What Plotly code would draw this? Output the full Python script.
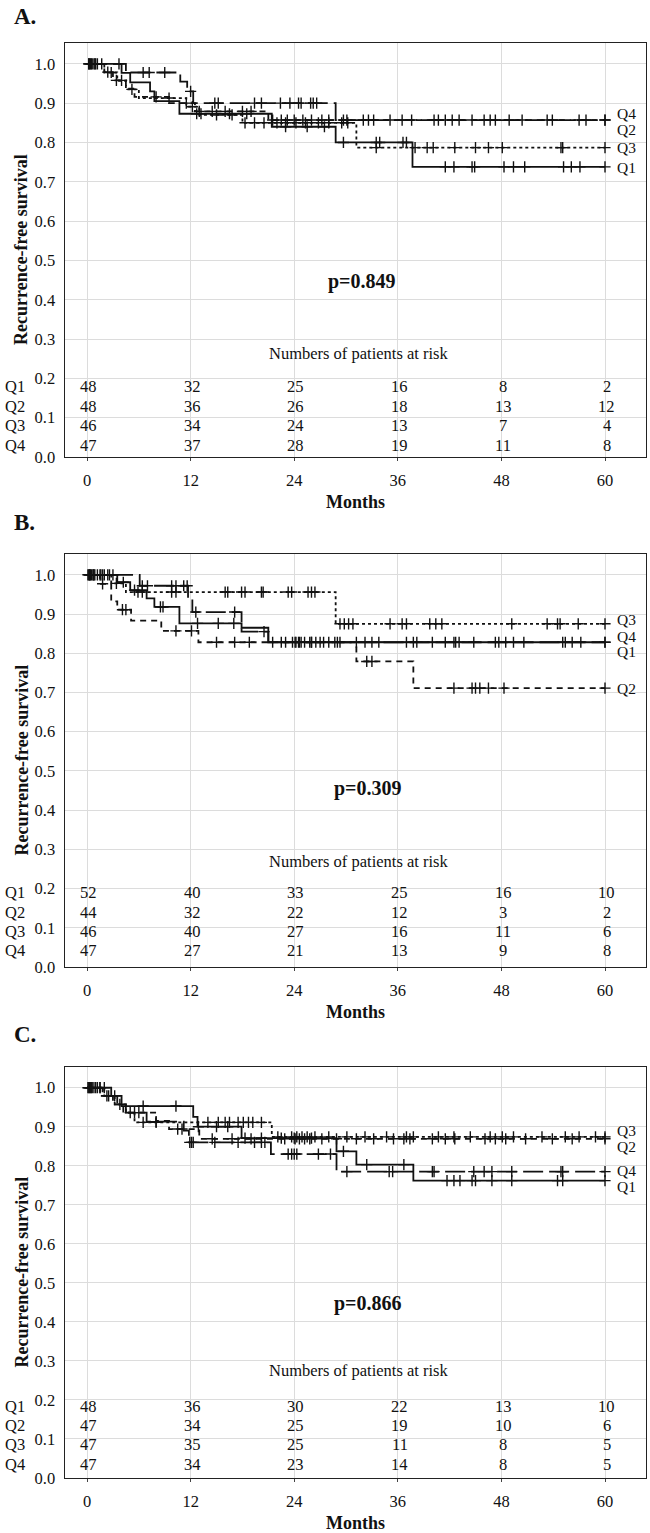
import plotly.graph_objects as go

# ---------------- data ----------------
months_ticks = [0, 12, 24, 36, 48, 60]
groups = ["Q1", "Q2", "Q3", "Q4"]
END = 60

# Panel A: step times, survival values, censor times
A_Q1_t = [0, 4.0, 5.0, 7.3, 7.8, 10.7, 21.4, 28.8, 37.7]
A_Q1_s = [1.0, 0.977, 0.953, 0.930, 0.905, 0.873, 0.840, 0.800, 0.738]
A_Q1_c = [0.3, 0.6, 1.0, 3.7, 12.7, 13.2, 16.5, 18.5, 23.0, 25.5, 27.5, 29.7, 33.5, 33.9,
          36.6, 37.0, 41.5, 42.5, 44.6, 44.9, 48.3, 49.4, 50.7, 55.2, 56.1, 57.1, 60.0]
A_Q2_t = [0, 2.0, 3.0, 4.5, 5.5, 9.5, 12.5, 21.0]
A_Q2_s = [1.0, 0.979, 0.958, 0.937, 0.916, 0.900, 0.879, 0.857]
A_Q2_c = [0.4, 0.9, 2.4, 3.4, 4.0, 8.0, 11.5, 13.0, 14.5, 16.0, 18.0, 19.0, 21.5, 22.5, 23.2,
          24.0, 25.0, 26.0, 27.2, 28.0, 32.0, 33.2, 36.5, 40.2, 41.5, 43.1, 46.0, 47.3, 50.4,
          53.9, 57.8, 60.0]
A_Q3_t = [0, 2.0, 3.5, 4.5, 6.0, 11.5, 13.0, 18.0, 31.2]
A_Q3_s = [1.0, 0.978, 0.957, 0.935, 0.913, 0.891, 0.870, 0.850, 0.787]
A_Q3_c = [0.2, 1.2, 2.8, 5.2, 9.5, 12.2, 15.0, 16.8, 18.3, 19.4, 20.5, 22.0, 23.0, 24.2, 25.3,
          26.8, 28.0, 29.5, 30.2, 33.5, 38.0, 39.4, 40.1, 42.6, 45.0, 46.5, 48.1, 54.9, 55.1, 60.0]
A_Q4_t = [0, 4.5, 10.8, 11.6, 12.3, 28.8]
A_Q4_s = [1.0, 0.978, 0.955, 0.930, 0.900, 0.857]
A_Q4_c = [0.2, 0.5, 0.8, 1.7, 6.5, 7.2, 9.0, 12.0, 14.8, 15.2, 19.4, 20.2, 22.4, 23.5, 24.5,
          24.8, 25.9, 26.2, 26.6, 29.7, 30.1, 32.6, 35.1, 37.6, 40.7, 42.3, 44.6, 46.7, 48.9,
          53.3, 57.0, 60.0]

# Panel B
B_Q1_t = [0, 3.5, 5.0, 6.9, 7.8, 10.7, 17.9, 21.0]
B_Q1_s = [1.0, 0.981, 0.961, 0.940, 0.918, 0.876, 0.865, 0.828]
B_Q1_c = [0.2, 0.5, 0.8, 1.5, 2.0, 2.6, 4.2, 5.5, 8.5, 8.8, 12.8, 15.2, 17.0, 22.5, 24.2, 24.5,
          24.8, 25.8, 26.5, 27.4, 28.7, 31.2, 33.0, 37.0, 38.2, 41.5, 42.7, 44.8, 47.7, 49.4,
          55.1, 56.2, 60.0]
B_Q2_t = [0, 1.5, 2.8, 3.5, 5.1, 8.6, 12.9, 31.2, 37.8]
B_Q2_s = [1.0, 0.977, 0.932, 0.911, 0.883, 0.857, 0.828, 0.779, 0.711]
B_Q2_c = [0.3, 0.7, 1.8, 4.1, 4.5, 10.3, 12.1, 15.0, 17.1, 18.8, 21.5, 23.0, 26.0, 29.0, 32.4,
          33.0, 42.5, 44.6, 45.0, 45.5, 46.5, 48.3, 60.0]
B_Q3_t = [0, 2.8, 4.5, 28.8]
B_Q3_s = [1.0, 0.978, 0.956, 0.875]
B_Q3_c = [0.3, 0.9, 1.6, 3.4, 5.9, 6.4, 9.8, 10.3, 16.0, 16.3, 17.9, 18.3, 20.2, 20.4, 23.3,
          23.7, 25.6, 26.0, 26.4, 29.3, 29.8, 30.3, 30.8, 35.1, 36.5, 37.0, 39.7, 40.4, 41.1,
          49.2, 53.3, 54.5, 54.8, 56.9, 60.0]
B_Q4_t = [0, 6.1, 11.7, 12.2, 17.9, 21.0]
B_Q4_s = [1.0, 0.972, 0.940, 0.905, 0.855, 0.828]
B_Q4_c = [0.1, 0.4, 0.7, 1.2, 1.8, 2.4, 3.0, 6.4, 7.0, 9.8, 10.3, 11.2, 11.6, 12.6, 17.1, 20.5,
          23.8, 24.1, 24.6, 25.2, 26.0, 27.0, 28.0, 29.3, 32.2, 33.8, 37.8, 40.0, 42.5, 43.1,
          47.3, 48.5, 50.6, 55.4, 57.2, 60.0]

# Panel C
C_Q1_t = [0, 2.8, 4.0, 12.3, 12.8, 17.9, 28.9, 31.2, 37.8]
C_Q1_s = [1.0, 0.979, 0.953, 0.925, 0.900, 0.871, 0.837, 0.803, 0.762]
C_Q1_c = [0.2, 0.5, 1.5, 2.0, 3.2, 6.5, 10.3, 12.9, 15.0, 16.3, 18.3, 20.2, 22.5, 24.0, 26.0,
          29.7, 32.4, 36.7, 41.7, 42.5, 43.2, 44.6, 45.0, 46.9, 49.2, 54.5, 55.1, 60.0]
C_Q2_t = [0, 1.5, 3.0, 4.2, 8.0, 9.5, 13.0]
C_Q2_s = [1.0, 0.979, 0.957, 0.936, 0.915, 0.894, 0.869]
C_Q2_c = [0.1, 0.6, 1.2, 2.3, 5.0, 6.0, 10.5, 11.0, 14.5, 16.8, 19.0, 22.9, 24.1, 24.6, 25.2,
          25.8, 27.2, 28.9, 31.2, 33.2, 35.5, 36.7, 37.4, 40.0, 41.5, 42.6, 46.1, 47.3, 48.5,
          50.8, 53.9, 56.2, 60.0]
C_Q3_t = [0, 2.0, 3.2, 4.5, 5.5, 21.4]
C_Q3_s = [1.0, 0.979, 0.957, 0.936, 0.911, 0.874]
C_Q3_c = [0.3, 0.8, 1.5, 3.8, 6.5, 8.0, 14.0, 15.2, 16.0, 16.5, 17.5, 18.1, 18.7, 19.2, 20.2,
          22.1, 23.7, 24.3, 24.9, 25.5, 26.4, 28.0, 30.1, 32.2, 34.7, 37.0, 37.8, 40.7, 42.5,
          44.4, 46.7, 48.1, 49.4, 52.7, 55.4, 57.0, 58.9, 60.0]
C_Q4_t = [0, 1.8, 3.5, 4.5, 6.9, 11.2, 11.8, 21.3, 28.9]
C_Q4_s = [1.0, 0.979, 0.957, 0.936, 0.913, 0.890, 0.860, 0.830, 0.785]
C_Q4_c = [0.4, 1.0, 2.5, 5.5, 8.0, 11.9, 12.1, 12.3, 14.8, 17.5, 19.4, 20.2, 20.6, 23.3, 23.7,
          24.0, 24.3, 26.8, 28.2, 30.1, 35.0, 35.4, 40.0, 40.2, 44.8, 46.0, 46.9, 49.2, 54.9,
          55.1, 60.0]

# Numbers at risk (at 0, 12, 24, 36, 48, 60 months)
A_risk_Q1 = [48, 32, 25, 16, 8, 2]
A_risk_Q2 = [48, 36, 26, 18, 13, 12]
A_risk_Q3 = [46, 34, 24, 13, 7, 4]
A_risk_Q4 = [47, 37, 28, 19, 11, 8]
B_risk_Q1 = [52, 40, 33, 25, 16, 10]
B_risk_Q2 = [44, 32, 22, 12, 3, 2]
B_risk_Q3 = [46, 40, 27, 16, 11, 6]
B_risk_Q4 = [47, 27, 21, 13, 9, 8]
C_risk_Q1 = [48, 36, 30, 22, 13, 10]
C_risk_Q2 = [47, 34, 25, 19, 10, 6]
C_risk_Q3 = [47, 35, 25, 11, 8, 5]
C_risk_Q4 = [47, 34, 23, 14, 8, 5]

panel_letters = ["A.", "B.", "C."]
p_values = ["p=0.849", "p=0.309", "p=0.866"]
risk_title = "Numbers of patients at risk"
x_title = "Months"
y_title = "Recurrence-free survival"

# ---------------- styling / layout ----------------
W, H = 650, 1533
FONT = "Liberation Serif, Times New Roman, serif"
INK = "#111111"
DASH = {"Q1": "solid", "Q2": "6px,5px", "Q3": "3px,3px", "Q4": "20px,6px"}
X_LEFT, X_RIGHT = 64.6, 646.0
X_RANGE = [-2.6, 64.75]
Y_RANGE = [0, 1.053]
FS = 16.5

PANEL_GEOM = [
    dict(top=43, bottom=457, letter=16, months=502,
         rows=[0.179, 0.128, 0.079, 0.029], rtitle=0.264, py=0.446, px=31.8,
         lab={"Q4": 0.874, "Q2": 0.834, "Q3": 0.787, "Q1": 0.737}),
    dict(top=554, bottom=967, letter=523, months=1012,
         rows=[0.190, 0.140, 0.090, 0.042], rtitle=0.269, py=0.454, px=32.5,
         lab={"Q3": 0.885, "Q4": 0.843, "Q1": 0.805, "Q2": 0.711}),
    dict(top=1067, bottom=1478, letter=1034, months=1523,
         rows=[0.184, 0.135, 0.086, 0.035], rtitle=0.2755, py=0.446, px=32.5,
         lab={"Q3": 0.891, "Q2": 0.849, "Q4": 0.787, "Q1": 0.747}),
]

curves = [
    {"Q1": (A_Q1_t, A_Q1_s, A_Q1_c), "Q2": (A_Q2_t, A_Q2_s, A_Q2_c),
     "Q3": (A_Q3_t, A_Q3_s, A_Q3_c), "Q4": (A_Q4_t, A_Q4_s, A_Q4_c)},
    {"Q1": (B_Q1_t, B_Q1_s, B_Q1_c), "Q2": (B_Q2_t, B_Q2_s, B_Q2_c),
     "Q3": (B_Q3_t, B_Q3_s, B_Q3_c), "Q4": (B_Q4_t, B_Q4_s, B_Q4_c)},
    {"Q1": (C_Q1_t, C_Q1_s, C_Q1_c), "Q2": (C_Q2_t, C_Q2_s, C_Q2_c),
     "Q3": (C_Q3_t, C_Q3_s, C_Q3_c), "Q4": (C_Q4_t, C_Q4_s, C_Q4_c)},
]
risks = [
    [A_risk_Q1, A_risk_Q2, A_risk_Q3, A_risk_Q4],
    [B_risk_Q1, B_risk_Q2, B_risk_Q3, B_risk_Q4],
    [C_risk_Q1, C_risk_Q2, C_risk_Q3, C_risk_Q4],
]


def step_value(t, s, x):
    v = s[0]
    for ti, si in zip(t, s):
        if ti <= x:
            v = si
    return v


def py2paper(py):
    return 1 - py / H


fig = go.Figure()
annotations = []
layout_axes = {}

for i, geom in enumerate(PANEL_GEOM):
    n = "" if i == 0 else str(i + 1)
    xa, ya = "x" + n, "y" + n
    for g in ["Q3", "Q2", "Q4", "Q1"]:
        t, s, c = curves[i][g]
        fig.add_trace(go.Scatter(
            x=list(t) + [END], y=list(s) + [s[-1]], mode="lines",
            line=dict(shape="hv", color=INK, width=1.8, dash=DASH[g]),
            xaxis=xa, yaxis=ya, showlegend=False, hoverinfo="skip"))
        fig.add_trace(go.Scatter(
            x=c, y=[step_value(t, s, ci) for ci in c], mode="markers",
            marker=dict(symbol="cross-thin-open", size=8, color=INK,
                        line=dict(color=INK, width=1.4)),
            xaxis=xa, yaxis=ya, showlegend=False, hoverinfo="skip"))

    layout_axes["xaxis" + n] = dict(
        domain=[X_LEFT / W, X_RIGHT / W], anchor=ya, range=X_RANGE, automargin=False,
        tickvals=months_ticks, ticktext=[str(m) for m in months_ticks],
        showgrid=True, gridcolor="#dcdcdc", gridwidth=1, zeroline=False,
        showline=True, mirror=True, linecolor="#222222", linewidth=1.3,
        ticks="outside", ticklen=3, tickcolor="#444444",
        tickfont=dict(family=FONT, size=FS, color=INK), ticklabelstandoff=5)
    yt = [round(k * 0.1, 1) for k in range(11)]
    layout_axes["yaxis" + n] = dict(
        domain=[py2paper(geom["bottom"]), py2paper(geom["top"])], anchor=xa,
        range=Y_RANGE, automargin=False, tickvals=yt, ticktext=[f"{v:.1f}" for v in yt],
        showgrid=True, gridcolor="#dcdcdc", gridwidth=1, zeroline=False,
        showline=True, mirror=True, linecolor="#222222", linewidth=1.3,
        ticks="", tickfont=dict(family=FONT, size=FS, color=INK),
        ticklabelstandoff=5)

    annotations.append(dict(text=f"<b>{panel_letters[i]}</b>", xref="paper", yref="paper",
                            x=12 / W, y=py2paper(geom["letter"]), xanchor="left",
                            yanchor="middle", showarrow=False,
                            font=dict(family=FONT, size=23, color=INK)))
    annotations.append(dict(text=f"<b>{y_title}</b>", xref="paper", yref="paper",
                            x=21 / W, y=py2paper((geom["top"] + geom["bottom"]) / 2),
                            xanchor="center", yanchor="middle", textangle=-90,
                            showarrow=False, font=dict(family=FONT, size=18, color=INK)))
    annotations.append(dict(text=f"<b>{x_title}</b>", xref="paper", yref="paper",
                            x=(X_LEFT + X_RIGHT) / 2 / W, y=py2paper(geom["months"]),
                            xanchor="center", yanchor="middle", showarrow=False,
                            font=dict(family=FONT, size=18, color=INK)))
    annotations.append(dict(text=f"<b>{p_values[i]}</b>", xref=xa, yref=ya,
                            x=geom["px"], y=geom["py"], xanchor="center", yanchor="middle",
                            showarrow=False, font=dict(family=FONT, size=20, color=INK)))
    annotations.append(dict(text=risk_title, xref=xa, yref=ya, x=31.5, y=geom["rtitle"],
                            xanchor="center", yanchor="middle", showarrow=False,
                            font=dict(family=FONT, size=FS, color=INK)))
    for gi, g in enumerate(groups):
        yv = geom["rows"][gi]
        annotations.append(dict(text=g, xref="paper", yref=ya, x=3 / W, y=yv,
                                xanchor="left", yanchor="middle", showarrow=False,
                                font=dict(family=FONT, size=FS, color=INK)))
        for m, v in zip(months_ticks, risks[i][gi]):
            annotations.append(dict(text=str(v), xref=xa, yref=ya, x=m + 0.2, y=yv,
                                    xanchor="center", yanchor="middle", showarrow=False,
                                    font=dict(family=FONT, size=FS, color=INK)))
    for g, yv in geom["lab"].items():
        annotations.append(dict(text=g, xref=xa, yref=ya, x=61.2, y=yv,
                                xanchor="left", yanchor="middle", showarrow=False,
                                font=dict(family=FONT, size=15.5, color=INK)))

fig.update_layout(
    width=W, height=H, margin=dict(l=0, r=0, t=0, b=0),
    paper_bgcolor="white", plot_bgcolor="white",
    font=dict(family=FONT, size=FS, color=INK),
    annotations=annotations, showlegend=False, **layout_axes)

fig.write_html(
    "out.html",
    config={"displayModeBar": False},
    post_script="document.body.style.margin='0';document.body.style.overflow='hidden';")
